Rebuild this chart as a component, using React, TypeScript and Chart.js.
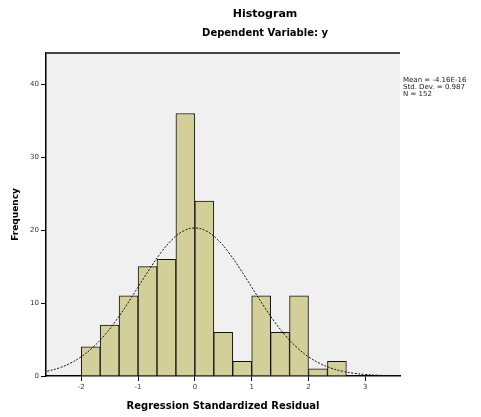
import React, { useEffect, useRef } from "react";
import { Chart, registerables } from "chart.js";

Chart.register(...registerables);

// Histogram bins (centres of 1/3-wide bins) and frequencies
const binCenters = [-1.833, -1.5, -1.167, -0.833, -0.5, -0.167, 0.167, 0.5, 0.833, 1.167, 1.5, 1.833, 2.167, 2.5];
const frequencies = [4, 7, 11, 15, 16, 36, 24, 6, 2, 11, 6, 11, 1, 2];

// Normal curve
const curveX = [-2.6, -2.4, -2.2, -2.0, -1.8, -1.6, -1.4, -1.2, -1.0, -0.8, -0.6, -0.4, -0.2, 0, 0.2, 0.4, 0.6, 0.8, 1.0, 1.2, 1.4, 1.6, 1.8, 2.0, 2.2, 2.4, 2.6, 2.8, 3.0, 3.2, 3.4, 3.6];
const curveY = [0.65, 1.07, 1.72, 2.64, 3.89, 5.5, 7.47, 9.74, 12.19, 14.64, 16.89, 18.71, 19.89, 20.3, 19.89, 18.71, 16.89, 14.64, 12.19, 9.74, 7.47, 5.5, 3.89, 2.64, 1.72, 1.07, 0.65, 0.37, 0.21, 0.11, 0.06, 0.03];

const xTicks = [-2, -1, 0, 1, 2, 3];
const yTicks = [0, 10, 20, 30, 40];

const titleText = "Histogram";
const subtitleText = "Dependent Variable: y";
const statsLines = ["Mean = -4.16E-16", "Std. Dev. = 0.987", "N = 152"];
const xTitle = "Regression Standardized Residual";
const yTitle = "Frequency";

const FONT = "'DejaVu Sans', Verdana, sans-serif";

const decorPlugin = {
  id: "decor",
  beforeDraw(chart: any) {
    const { ctx, chartArea } = chart;
    ctx.save();
    ctx.fillStyle = "#F0F0F0";
    ctx.fillRect(chartArea.left, chartArea.top, chartArea.right - chartArea.left, chartArea.bottom - chartArea.top);
    ctx.restore();
  },
  afterDraw(chart: any) {
    const { ctx, chartArea } = chart;
    ctx.save();
    // top border
    ctx.strokeStyle = "#444";
    ctx.lineWidth = 2;
    ctx.beginPath();
    ctx.moveTo(chartArea.left, chartArea.top);
    ctx.lineTo(chartArea.right, chartArea.top);
    ctx.stroke();
    // titles
    ctx.fillStyle = "#000";
    ctx.textAlign = "center";
    ctx.textBaseline = "middle";
    const cx = chart.width * 0.551;
    ctx.font = `bold 11px ${FONT}`;
    ctx.fillText(titleText, cx, 14);
    ctx.font = `bold 10px ${FONT}`;
    ctx.fillText(subtitleText, cx, 33);
    // stats
    ctx.textAlign = "left";
    ctx.font = `7px ${FONT}`;
    ctx.fillStyle = "#222";
    statsLines.forEach((s, i) => ctx.fillText(s, chartArea.right + 3, chartArea.top + 27 + i * 7));
    ctx.restore();
  },
};

export default function App() {
  const ref = useRef<HTMLCanvasElement>(null);
  useEffect(() => {
    document.body.style.margin = "0";
    const chart = new Chart(ref.current!, {
      type: "bar",
      data: {
        datasets: [
          {
            type: "line",
            data: curveX.map((x, i) => ({ x, y: curveY[i] })),
            borderColor: "#111",
            borderWidth: 1,
            borderDash: [2, 1.5],
            pointRadius: 0,
            tension: 0.4,
            fill: false,
            order: 0,
          } as any,
          {
            type: "bar",
            data: binCenters.map((x, i) => ({ x, y: frequencies[i] })),
            backgroundColor: "#D3CF98",
            borderColor: "#111",
            borderWidth: 1,
            categoryPercentage: 1,
            barPercentage: 1,
            order: 1,
          } as any,
        ],
      },
      options: {
        animation: false,
        responsive: false,
        events: [],
        layout: { padding: { top: 53, left: 0, right: 81, bottom: 0 } },
        plugins: { legend: { display: false }, tooltip: { enabled: false }, title: { display: false } },
        scales: {
          x: {
            type: "linear",
            min: -2.62,
            max: 3.61,
            offset: false,
            afterBuildTicks: (s: any) => { s.ticks = xTicks.map((v) => ({ value: v })); },
            afterFit: (s: any) => { s.height = 41; },
            grid: { offset: false, drawOnChartArea: false, tickLength: 5, color: "#000", lineWidth: 1 },
            border: { display: true, color: "#000", width: 1.5 },
            ticks: { color: "#333", font: { family: FONT, size: 7 }, padding: 2, maxRotation: 0 },
            title: { display: true, text: xTitle, color: "#000", font: { family: FONT, size: 10, weight: "bold" }, padding: { top: 0, bottom: 5 } },
          },
          y: {
            min: 0,
            max: 44.3,
            afterBuildTicks: (s: any) => { s.ticks = yTicks.map((v) => ({ value: v })); },
            afterFit: (s: any) => { s.width = 46; },
            grid: { drawOnChartArea: false, tickLength: 5, color: "#000", lineWidth: 1 },
            border: { display: true, color: "#000", width: 1.5 },
            ticks: { color: "#333", font: { family: FONT, size: 7 }, padding: 2 },
            title: { display: true, text: yTitle, color: "#000", font: { family: FONT, size: 9, weight: "bold" }, padding: { top: 10, bottom: 0 } },
          },
        },
      } as any,
      plugins: [decorPlugin],
    });
    return () => chart.destroy();
  }, []);
  return (
    <div style={{ position: "absolute", left: 0, top: 0, width: 481, height: 417, background: "#fff" }}>
      <canvas ref={ref} width={481} height={417} />
    </div>
  );
}
